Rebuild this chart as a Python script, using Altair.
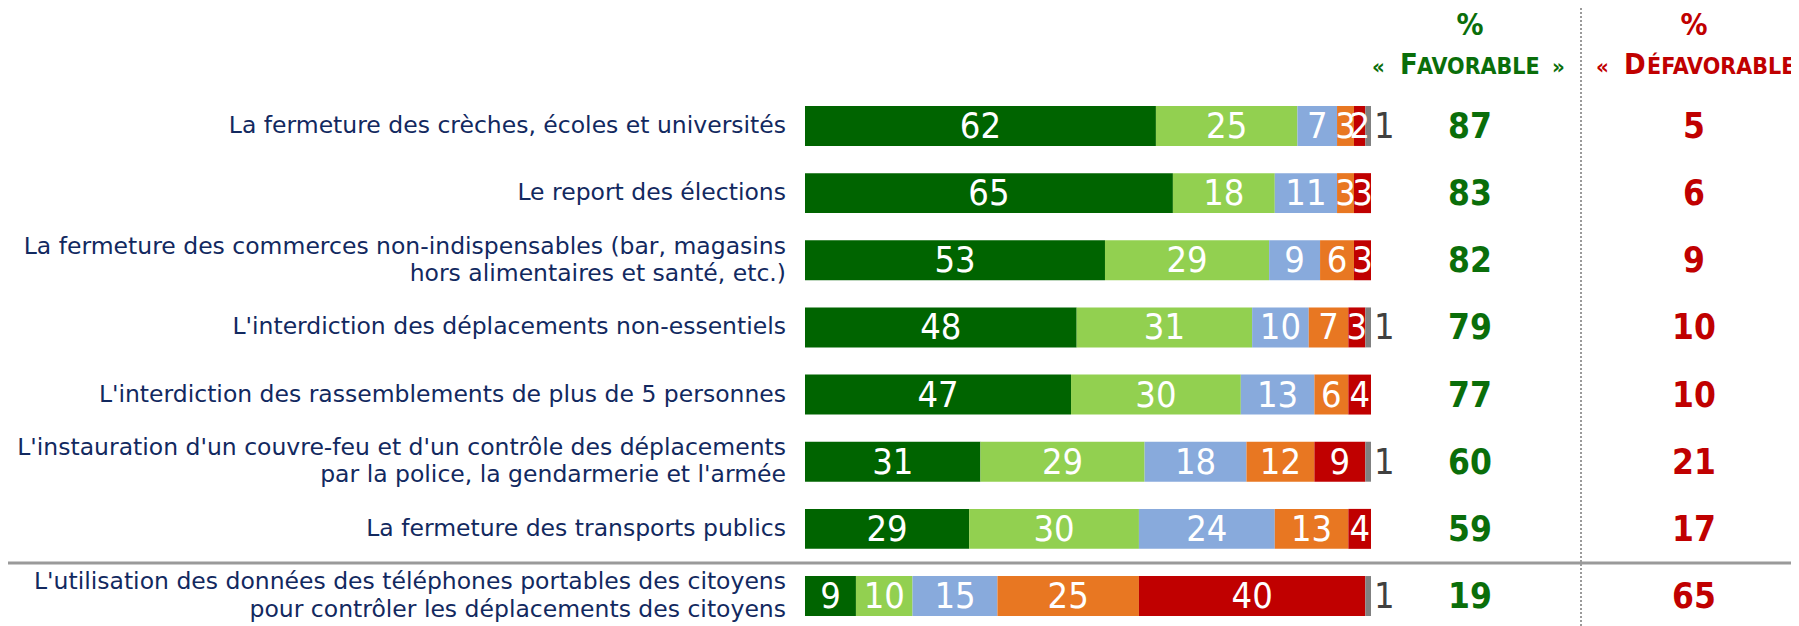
import altair as alt
import pandas as pd

categories = [
    "La fermeture des crèches, écoles et universités",
    "Le report des élections",
    "La fermeture des commerces non-indispensables (bar, magasins\nhors alimentaires et santé, etc.)",
    "L'interdiction des déplacements non-essentiels",
    "L'interdiction des rassemblements de plus de 5 personnes",
    "L'instauration d'un couvre-feu et d'un contrôle des déplacements\npar la police, la gendarmerie et l'armée",
    "La fermeture des transports publics",
    "L'utilisation des données des téléphones portables des citoyens\npour contrôler les déplacements des citoyens",
]

series_names = [
    "Tout à fait favorable",
    "Plutôt favorable",
    "Ni favorable ni défavorable",
    "Plutôt défavorable",
    "Tout à fait défavorable",
    "Ne se prononce pas",
]
series_colors = ["#006400", "#92D050", "#88AADC", "#E87722", "#C00000", "#808080"]

tout_fav = [62, 65, 53, 48, 47, 31, 29, 9]
plutot_fav = [25, 18, 29, 31, 30, 29, 30, 10]
ni_ni = [7, 11, 9, 10, 13, 18, 24, 15]
plutot_defav = [3, 3, 6, 7, 6, 12, 13, 25]
tout_defav = [2, 3, 3, 3, 4, 9, 4, 40]
nsp = [1, 0, 0, 1, 0, 1, 0, 1]

total_fav = [87, 83, 82, 79, 77, 60, 59, 19]
total_defav = [5, 6, 9, 10, 10, 21, 17, 65]

header_pct = "%"
header_fav = ["«", "F", "AVORABLE", "»"]
header_defav = ["«", "D", "ÉFAVORABLE"]

# ---- build tables ----
all_series = [tout_fav, plutot_fav, ni_ni, plutot_defav, tout_defav, nsp]
rows = []
for i, cat in enumerate(categories):
    for k, (name, vals) in enumerate(zip(series_names, all_series)):
        if vals[i] > 0:
            rows.append({"cat": cat, "series": name, "k": k, "value": vals[i]})
df = pd.DataFrame(rows)
tot_df = pd.DataFrame({"cat": categories, "fav": total_fav, "defav": total_defav})

FONT = "DejaVu Sans Condensed"
LABEL_FONT = "DejaVu Sans"
NAVY = "#12295F"
GREEN = "#0A6E0A"
RED = "#C00000"
LINE_H = 27.5

y_enc = alt.Y(
    "cat:N",
    sort=categories,
    axis=None,
    scale=alt.Scale(paddingInner=0.405, paddingOuter=0),
)
x_scale = alt.Scale(domain=[0, 100], nice=False, zero=True)

stacked = alt.Chart(df).transform_stack(
    stack="value",
    groupby=["cat"],
    sort=[alt.SortField("k", order="ascending")],
    as_=["x0", "x1"],
)

bars = stacked.mark_bar().encode(
    y=y_enc,
    x=alt.X("x0:Q", scale=x_scale, axis=None),
    x2="x1:Q",
    color=alt.Color(
        "series:N",
        scale=alt.Scale(domain=series_names, range=series_colors),
        legend=None,
    ),
)

inner_labels = (
    stacked.transform_filter(alt.datum.series != "Ne se prononce pas")
    .transform_calculate(mid="(datum.x0 + datum.x1) / 2")
    .mark_text(color="white", font=FONT, fontSize=36, baseline="middle", dy=1, clip=True)
    .encode(y=y_enc, x=alt.X("mid:Q", scale=x_scale, axis=None), text="value:Q")
)

nsp_labels = (
    stacked.transform_filter(alt.datum.series == "Ne se prononce pas")
    .mark_text(color="#404040", font=FONT, fontSize=36, baseline="middle", align="left", dx=3, dy=1)
    .encode(y=y_enc, x=alt.X("x1:Q", scale=x_scale, axis=None), text="value:Q")
)


def cat_layer(filter_expr, dy):
    return (
        alt.Chart(tot_df)
        .transform_filter(filter_expr)
        .mark_text(
            align="right",
            baseline="middle",
            dx=-19,
            dy=dy,
            font=LABEL_FONT,
            fontSize=23.5,
            lineBreak="\n",
            lineHeight=LINE_H,
            color=NAVY,
        )
        .encode(y=y_enc, x=alt.value(0), text="cat:N")
    )


cat_single = cat_layer("indexof(datum.cat, '\\n') < 0", 0)
cat_double = cat_layer("indexof(datum.cat, '\\n') >= 0", -LINE_H / 2)

fav_text = (
    alt.Chart(tot_df)
    .mark_text(font=FONT, fontSize=35, fontWeight="bold", color=GREEN, baseline="middle", dy=1)
    .encode(y=y_enc, x=alt.value(665), text="fav:Q")
)
defav_text = (
    alt.Chart(tot_df)
    .mark_text(font=FONT, fontSize=35, fontWeight="bold", color=RED, baseline="middle", dy=1)
    .encode(y=y_enc, x=alt.value(889), text="defav:Q")
)


def piece(txt, x, y, size, color, align="left"):
    return (
        alt.Chart(pd.DataFrame({"t": [txt]}))
        .mark_text(font=FONT, fontSize=size, fontWeight="bold", color=color,
                   align=align, baseline="alphabetic")
        .encode(text="t:N", x=alt.value(x), y=alt.value(y))
    )


headers = [
    piece(header_pct, 665, -71, 30, GREEN, "center"),
    piece(header_pct, 889, -71, 30, RED, "center"),
    piece(header_fav[0], 567, -32, 22, GREEN),
    piece(header_fav[1], 595, -32, 29, GREEN),
    piece(header_fav[2], 612, -32, 23, GREEN),
    piece(header_fav[3], 747, -32, 22, GREEN),
    piece(header_defav[0], 791, -32, 22, RED),
    piece(header_defav[1], 819, -32, 29, RED),
    piece(header_defav[2], 842, -32, 23, RED),
]

one = pd.DataFrame({"a": [0]})
separator = alt.Chart(one).mark_rule(color="#9A9A9A", strokeWidth=3).encode(
    x=alt.value(-797), x2=alt.value(986), y=alt.value(457)
)
dotted = alt.Chart(one).mark_rule(color="#9A9A9A", strokeWidth=2, strokeDash=[2, 2]).encode(
    x=alt.value(776), y=alt.value(-98), y2=alt.value(520)
)

chart = (
    alt.layer(separator, dotted, bars, inner_labels, nsp_labels, cat_single, cat_double,
              fav_text, defav_text, *headers)
    .properties(
        width=566,
        height=510,
        padding={"left": 797, "top": 98, "right": 420, "bottom": 10},
        autosize=alt.AutoSizeParams(type="none"),
    )
    .configure_view(stroke=None)
)

chart.save("out.html", embed_options={"renderer": "svg", "actions": False})
